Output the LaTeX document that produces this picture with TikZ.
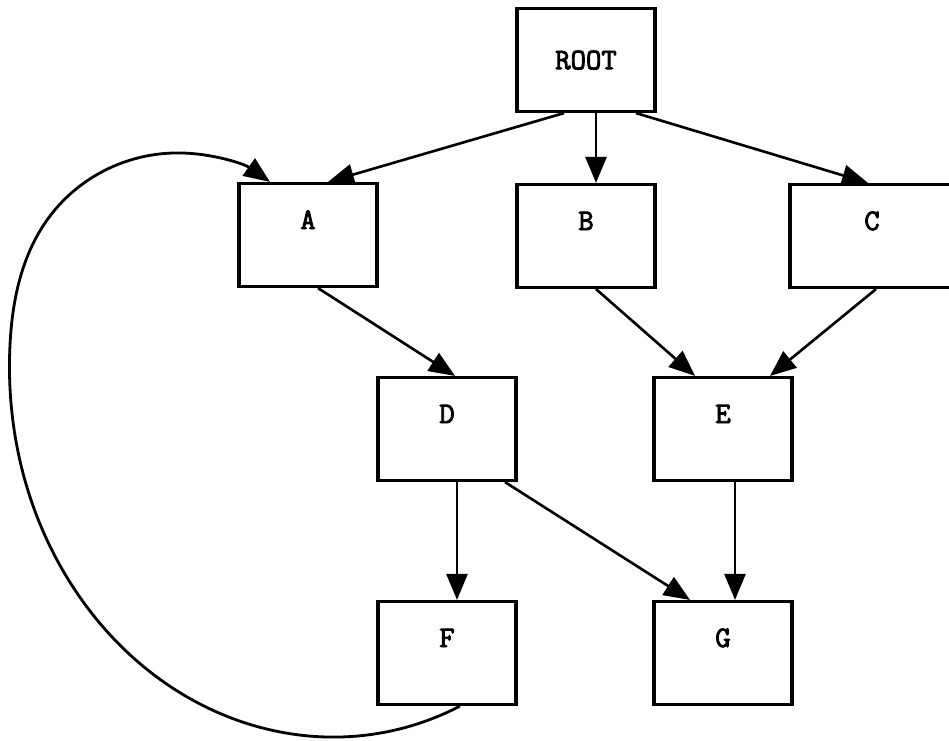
\documentclass[tikz,border=0pt]{standalone}
\usepackage{fontspec}
\newfontfamily\boxfont{Latin Modern Mono}[FakeBold=3]
\usepackage{tikz}
\usetikzlibrary{arrows.meta}
\usetikzlibrary{calc,positioning}
\usetikzlibrary{hobby}
\tikzstyle{box} = [draw, line width=1.8pt,
minimum width=2.76cm, minimum height=2.06cm,
inner sep=0pt, text height=0.37cm, text depth=0.61cm,
font=\fontsize{17}{20}\boxfont]
\tikzstyle{arrow} = [-{Triangle[length=0.52cm,width=0.42cm]}, line width=1.5pt]

\begin{document}
\begin{tikzpicture}[x=0.02cm,y=-0.02cm]
        \useasboundingbox (0,0) rectangle (949,740);
        \clip (0,0) rectangle (949,740);
        % the tree
        \node[box,text depth=0pt] (ROOT) at (586,60) {ROOT};
        \node[box] (A) at (308,235) {A};
        \node[box] (B) at (586,236) {B};
        \node[box,minimum width=3.28cm] (C) at (872,236) {C};
        \node[box] (D) at (447,429) {D};
        \node[box] (E) at (723,429) {E};
        \node[box] (F) at (447,653) {F};
        \node[box] (G) at (723,653) {G};
        % edges
        \draw[arrow] ($(ROOT.south)+(-22,0)$) -- ($(A.north)+(20,0)$);
        \draw[arrow] ($(ROOT.south)+(10,0)$) -- ($(B.north)+(10,0)$);
        \draw[arrow] ($(ROOT.south)+(50,0)$) -- ($(C.north)+(-4,0)$);
        \draw[arrow] ($(A.south)+(10,0)$) -- ($(D.north)+(8,0)$);
        \draw[arrow] ($(B.south)+(10,0)$) -- ($(E.north)+(-28,0)$);
        \draw[arrow] ($(C.south)+(4,0)$) -- ($(E.north)+(47,0)$);
        \draw[arrow] ($(D.south)+(10,0)$) -- ($(F.north)+(10,0)$);
        \draw[arrow] ($(D.south)+(58,0)$) -- ($(G.north)+(-33,0)$);
        \draw[arrow] ($(E.south)+(12,0)$) -- ($(G.north)+(12,0)$);
        % back edge F -> A
        \draw[arrow,line width=1.6pt] ($(F.south)+(13,0)$)
          to[curve through={(340,737) .. (200,704) .. (73,587) .. (10,345) .. (50,216) .. (183,153)}]
          ($(A.north)+(-38,0)$);
\end{tikzpicture}
\end{document}
